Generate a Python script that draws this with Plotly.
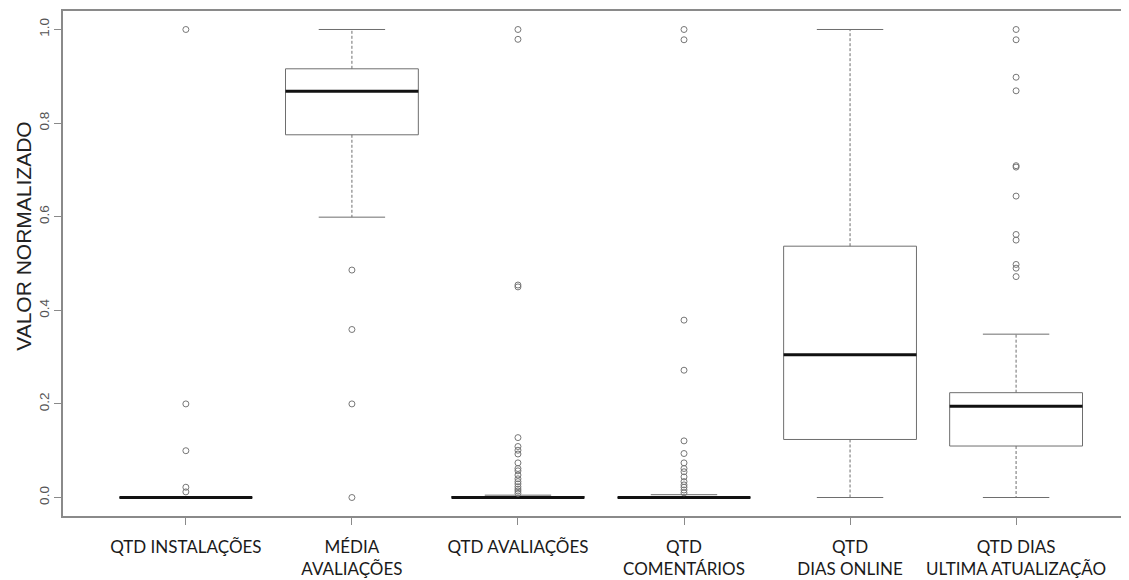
import plotly.graph_objects as go

# ---- data ----
categories = ["QTD INSTALAÇÕES", "MÉDIA<br>AVALIAÇÕES", "QTD AVALIAÇÕES",
              "QTD<br>COMENTÁRIOS", "QTD<br>DIAS ONLINE", "QTD DIAS<br>ULTIMA ATUALIZAÇÃO"]
lower_whisker = [0.0, 0.599, 0.0, 0.0, 0.0, 0.0]
q1 = [0.0, 0.775, 0.0, 0.0, 0.124, 0.110]
median = [0.0, 0.868, 0.0, 0.0, 0.305, 0.195]
q3 = [0.0, 0.916, 0.002, 0.001, 0.537, 0.224]
upper_whisker = [0.0, 1.0, 0.005, 0.006, 1.0, 0.349]

out_instalacoes = [1.0, 0.2, 0.1, 0.022, 0.012]
out_media = [0.486, 0.359, 0.2, 0.0]
out_avaliacoes = [1.0, 0.979, 0.454, 0.450, 0.128, 0.109, 0.101, 0.093, 0.074, 0.062,
                  0.057, 0.048, 0.040, 0.034, 0.029, 0.023, 0.018, 0.014, 0.009]
out_comentarios = [1.0, 0.978, 0.379, 0.272, 0.121, 0.094, 0.074, 0.062, 0.055, 0.044,
                   0.034, 0.027, 0.022, 0.016, 0.010]
out_dias_online = []
out_ultima = [1.0, 0.978, 0.898, 0.869, 0.709, 0.706, 0.644, 0.562, 0.550, 0.498,
              0.490, 0.472]
outliers = [out_instalacoes, out_media, out_avaliacoes, out_comentarios,
            out_dias_online, out_ultima]

yticks = [0.0, 0.2, 0.4, 0.6, 0.8, 1.0]

# ---- styles ----
BOX_HALF = 0.4
CAP_HALF = 0.2
GRAY = "#6e6e6e"
FRAME = "#8a8a8a"

positions = list(range(1, len(categories) + 1))

box_x, box_y = [], []
med_x, med_y = [], []
wh_x, wh_y = [], []
cap_x, cap_y = [], []
for p, lw, a, m, b, uw in zip(positions, lower_whisker, q1, median, q3, upper_whisker):
    box_x += [p - BOX_HALF, p + BOX_HALF, p + BOX_HALF, p - BOX_HALF, p - BOX_HALF, None]
    box_y += [a, a, b, b, a, None]
    med_x += [p - BOX_HALF, p + BOX_HALF, None]
    med_y += [m, m, None]
    wh_x += [p, p, None, p, p, None]
    wh_y += [b, uw, None, a, lw, None]
    cap_x += [p - CAP_HALF, p + CAP_HALF, None, p - CAP_HALF, p + CAP_HALF, None]
    cap_y += [uw, uw, None, lw, lw, None]

out_x, out_y = [], []
for p, vals in zip(positions, outliers):
    out_x += [p] * len(vals)
    out_y += list(vals)

fig = go.Figure()
fig.add_trace(go.Scatter(x=wh_x, y=wh_y, mode="lines", hoverinfo="skip",
                         line=dict(color=GRAY, width=1, dash="3px,2px")))
fig.add_trace(go.Scatter(x=cap_x, y=cap_y, mode="lines", hoverinfo="skip",
                         line=dict(color=GRAY, width=1)))
fig.add_trace(go.Scatter(x=box_x, y=box_y, mode="lines", hoverinfo="skip",
                         line=dict(color=GRAY, width=1)))
fig.add_trace(go.Scatter(x=med_x, y=med_y, mode="lines", hoverinfo="skip",
                         line=dict(color="#111111", width=3)))
fig.add_trace(go.Scatter(x=out_x, y=out_y, mode="markers",
                         marker=dict(symbol="circle-open", size=6, color="#777777",
                                     line=dict(width=1))))

fig.update_layout(
    width=1121, height=572,
    margin=dict(l=55, r=0, t=3, b=64),
    paper_bgcolor="white", plot_bgcolor="white",
    showlegend=False,
    xaxis=dict(
        range=[0.26, 6.68], tickmode="array", tickvals=positions, ticktext=categories,
        showline=True, linecolor=FRAME, linewidth=1.5, mirror=True,
        ticks="outside", ticklen=7, tickcolor=FRAME, tickwidth=1,
        showgrid=False, zeroline=False, automargin=False,
        tickfont=dict(family="Lato", size=17, color="#1a1a1a"),
        tickangle=0, ticklabelstandoff=8,
    ),
    yaxis=dict(
        range=[-0.0395, 1.0395], tickmode="array", tickvals=yticks,
        ticktext=[f"{v:.1f}" for v in yticks],
        showline=True, linecolor=FRAME, linewidth=1.5, mirror=False,
        ticks="outside", ticklen=7, tickcolor=FRAME, tickwidth=1,
        showgrid=False, zeroline=False, tickangle=-90, automargin=False,
        tickfont=dict(family="Liberation Sans", size=13.5, color="#555555"),
    ),
    annotations=[dict(
        text="VALOR NORMALIZADO", xref="paper", yref="paper",
        x=-0.037, y=0.554, xanchor="center", yanchor="middle",
        textangle=-90, showarrow=False,
        font=dict(family="Liberation Sans", size=21, color="#222222"),
    )],
)

fig.write_html("out.html")
